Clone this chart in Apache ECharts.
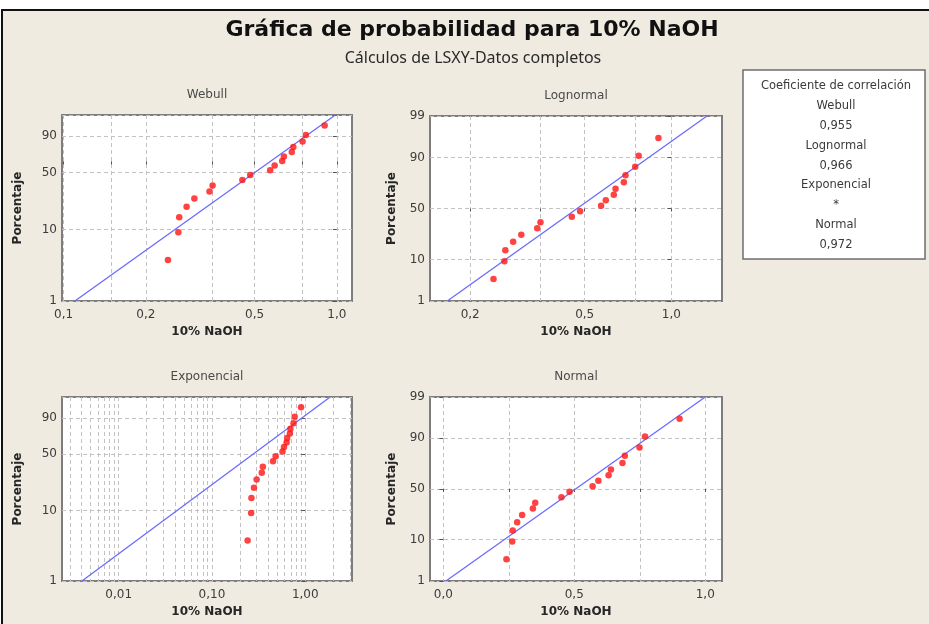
<!DOCTYPE html>
<html>
<head>
<meta charset="utf-8">
<script src="https://cdn.jsdelivr.net/npm/echarts@6/dist/echarts.min.js"></script>
<style>
  html, body { margin: 0; padding: 0; background: #ffffff; }
  #wrap { position: relative; width: 929px; height: 624px; overflow: hidden; }
  #frame { position: absolute; left: 1px; top: 9px; width: 960px; height: 640px;
           background: #EFEBE1; border-left: 2px solid #111; border-top: 2px solid #111; }
  #chart { position: absolute; left: 0; top: 0; width: 929px; height: 624px; }
</style>
</head>
<body>
<div id="wrap">
  <div id="frame"></div>
  <div id="chart"></div>
</div>
<script>
// Sorted 10% NaOH observations and their plotting positions (%)
const naoh = [0.241, 0.263, 0.265, 0.282, 0.301, 0.342, 0.351, 0.451, 0.482,
              0.570, 0.592, 0.631, 0.640, 0.684, 0.693, 0.749, 0.770, 0.902];
const percent = [3.8, 9.2, 14.7, 20.1, 25.5, 31.0, 36.4, 41.8, 47.3,
                 52.7, 58.2, 63.6, 69.0, 74.5, 79.9, 85.3, 90.8, 96.2];

// Fitted distribution lines: x at the 1% and 99% points
const fitPercent = [1, 99];
const weibullFitX = [0.110, 0.987];
const lognormalFitX = [0.1665, 1.33];
const exponentialFitX = [0.00404, 1.85];
const normalFitX = [0.010, 1.000];

// Correlation summary
const distNames = ['Webull', 'Lognormal', 'Exponencial', 'Normal'];
const correlation = ['0,955', '0,966', '*', '0,972'];

// Percent scale ticks
const pctTicks = [1, 10, 50, 90, 99];
const pctLabelsFull = [1, 10, 50, 90, 99];
const pctLabelsShort = [1, 10, 50, 90];

// X-axis labelled values and grid positions
const weibullXTicks = [0.1, 0.2, 0.5, 1.0];
const weibullXGrid = [0.1, 0.15, 0.2, 0.35, 0.5, 0.75, 1.0];
const lognormalXTicks = [0.2, 0.5, 1.0];
const lognormalXGrid = [0.2, 0.35, 0.5, 0.75, 1.0];
const exponentialXTicks = [0.01, 0.1, 1.0];
const exponentialXGrid = [0.003, 0.004, 0.005, 0.006, 0.007, 0.008, 0.009,
                          0.01, 0.02, 0.03, 0.04, 0.05, 0.06, 0.07, 0.08, 0.09,
                          0.1, 0.2, 0.3, 0.4, 0.5, 0.6, 0.7, 0.8, 0.9,
                          1, 2, 3];
const normalXTicks = [0.0, 0.5, 1.0];
const normalXGrid = [0.0, 0.25, 0.5, 0.75, 1.0];

const FONT = 'DejaVu Sans';

// Inverse standard normal CDF (Acklam)
function normInv(p) {
  const a = [-3.969683028665376e+01, 2.209460984245205e+02, -2.759285104469687e+02,
             1.383577518672690e+02, -3.066479806614716e+01, 2.506628277459239e+00];
  const b = [-5.447609879822406e+01, 1.615858368580409e+02, -1.556989798598866e+02,
             6.680131188771972e+01, -1.328068155288572e+01];
  const c = [-7.784894002430293e-03, -3.223964580411365e-01, -2.400758277161838e+00,
             -2.549732539343734e+00, 4.374664141464968e+00, 2.938163982698783e+00];
  const d = [7.784695709041462e-03, 3.224671290700398e-01, 2.445134137142996e+00,
             3.754408661907416e+00];
  const pl = 0.02425, ph = 1 - pl;
  let q, r;
  if (p < pl) {
    q = Math.sqrt(-2 * Math.log(p));
    return (((((c[0]*q+c[1])*q+c[2])*q+c[3])*q+c[4])*q+c[5]) / ((((d[0]*q+d[1])*q+d[2])*q+d[3])*q+1);
  }
  if (p > ph) {
    q = Math.sqrt(-2 * Math.log(1 - p));
    return -(((((c[0]*q+c[1])*q+c[2])*q+c[3])*q+c[4])*q+c[5]) / ((((d[0]*q+d[1])*q+d[2])*q+d[3])*q+1);
  }
  q = p - 0.5; r = q * q;
  return (((((a[0]*r+a[1])*r+a[2])*r+a[3])*r+a[4])*r+a[5])*q / (((((b[0]*r+b[1])*r+b[2])*r+b[3])*r+b[4])*r+1);
}

// Probability-paper transforms for the percent axis
const normalScale = pct => normInv(pct / 100);
const weibullScale = pct => Math.log(-Math.log(1 - pct / 100));
const logScale = v => Math.log10(v);
const linScale = v => v;

const panels = [
  { title: 'Webull', rect: { left: 62, top: 115, width: 290, height: 186 },
    xf: logScale, yf: weibullScale, xMin: 0.0987, xMax: 1.136, digits: 1,
    xTicks: weibullXTicks, xGrid: weibullXGrid, yLabels: pctLabelsShort,
    fit: weibullFitX, yNameGap: 38, showXTicks: true },
  { title: 'Lognormal', rect: { left: 430, top: 116, width: 292, height: 185 },
    xf: logScale, yf: normalScale, xMin: 0.145, xMax: 1.5, digits: 1,
    xTicks: lognormalXTicks, xGrid: lognormalXGrid, yLabels: pctLabelsFull,
    fit: lognormalFitX, yNameGap: 32, showXTicks: true },
  { title: 'Exponencial', rect: { left: 62, top: 397, width: 290, height: 184 },
    xf: logScale, yf: weibullScale, xMin: 0.00247, xMax: 3.17, digits: 2,
    xTicks: exponentialXTicks, xGrid: exponentialXGrid, yLabels: pctLabelsShort,
    fit: exponentialFitX, yNameGap: 38, showXTicks: false },
  { title: 'Normal', rect: { left: 430, top: 397, width: 292, height: 184 },
    xf: linScale, yf: normalScale, xMin: -0.0508, xMax: 1.064, digits: 1,
    xTicks: normalXTicks, xGrid: normalXGrid, yLabels: pctLabelsFull,
    fit: normalFitX, yNameGap: 32, showXTicks: true }
];

const grids = [], xAxes = [], yAxes = [], series = [], graphics = [];

panels.forEach((p, i) => {
  grids.push(Object.assign({
    show: true, backgroundColor: '#ffffff', borderColor: '#7d7d7d', borderWidth: 2,
    containLabel: false
  }, p.rect));

  const fromX = v => (p.xf === logScale ? Math.pow(10, v) : v);
  xAxes.push({
    gridIndex: i, type: 'value',
    min: p.xf(p.xMin), max: p.xf(p.xMax),
    axisLine: { show: false },
    axisTick: { show: p.showXTicks, customValues: p.xGrid.map(p.xf), length: 3,
                lineStyle: { color: '#555' } },
    axisLabel: {
      customValues: p.xTicks.map(p.xf),
      formatter: v => fromX(v).toFixed(p.digits).replace('.', ','),
      color: '#3c3c3c', fontFamily: FONT, fontSize: 12, margin: 8
    },
    splitLine: { show: true, lineStyle: { color: '#c2c2c2', type: [4, 3], width: 1 } },
    name: '10% NaOH', nameLocation: 'middle', nameGap: 25,
    nameTextStyle: { fontFamily: FONT, fontWeight: 'bold', fontSize: 12, color: '#262626' }
  });

  yAxes.push({
    gridIndex: i, type: 'value',
    min: p.yf(1), max: p.yf(99),
    axisLine: { show: false },
    axisTick: { show: true, customValues: pctTicks.map(p.yf), length: 4,
                lineStyle: { color: '#555' } },
    axisLabel: {
      customValues: p.yLabels.map(p.yf),
      formatter: v => {
        const hit = pctTicks.find(t => Math.abs(p.yf(t) - v) < 1e-6);
        return hit === undefined ? '' : String(hit);
      },
      color: '#3c3c3c', fontFamily: FONT, fontSize: 12, margin: 5
    },
    splitLine: { show: true, lineStyle: { color: '#c2c2c2', type: [4, 3], width: 1 } },
    name: 'Porcentaje', nameLocation: 'middle', nameGap: p.yNameGap, nameRotate: 90,
    nameTextStyle: { fontFamily: FONT, fontWeight: 'bold', fontSize: 12, color: '#262626' }
  });

  series.push({
    type: 'line', xAxisIndex: i, yAxisIndex: i, symbol: 'none', z: 2,
    lineStyle: { color: '#6b6bff', width: 1.3 },
    data: p.fit.map((v, k) => [p.xf(v), p.yf(fitPercent[k])])
  });
  series.push({
    type: 'scatter', xAxisIndex: i, yAxisIndex: i, symbolSize: 6.5, z: 3,
    itemStyle: { color: '#ff1414' },
    data: naoh.map((v, k) => [p.xf(v), p.yf(percent[k])])
  });

  graphics.push({
    type: 'text', x: p.rect.left + p.rect.width / 2, y: p.rect.top - 20,
    style: { text: p.title, fontFamily: FONT, fontSize: 12, fill: '#4a4a4a',
             textAlign: 'center', textVerticalAlign: 'middle' }
  });
});

// Main heading
graphics.push({
  type: 'text', x: 472, y: 30,
  style: { text: 'Gráfica de probabilidad para 10% NaOH', fontFamily: FONT, fontWeight: 'bold',
           fontSize: 22, fill: '#111', textAlign: 'center', textVerticalAlign: 'middle' }
});
graphics.push({
  type: 'text', x: 473, y: 58,
  style: { text: 'Cálculos de LSXY-Datos completos', fontFamily: 'Noto Sans',
           fontSize: 16, fill: '#2a2a2a', textAlign: 'center', textVerticalAlign: 'middle' }
});

// Correlation coefficient box
graphics.push({
  type: 'rect', shape: { x: 743, y: 70, width: 182, height: 189 },
  style: { fill: '#ffffff', stroke: '#6e6e6e', lineWidth: 1.5 }
});
const boxLines = ['Coeficiente de correlación'];
distNames.forEach((n, k) => { boxLines.push(n, correlation[k]); });
boxLines.forEach((t, k) => {
  graphics.push({
    type: 'text', x: 836, y: 86 + k * 19.9,
    style: { text: t, fontFamily: FONT, fontSize: 11.5, fill: '#3a3a3a',
             textAlign: 'center', textVerticalAlign: 'middle' }
  });
});

const chart = echarts.init(document.getElementById('chart'));
chart.setOption({
  backgroundColor: 'transparent',
  animation: false,
  grid: grids,
  xAxis: xAxes,
  yAxis: yAxes,
  series: series,
  graphic: graphics
});
</script>
</body>
</html>
